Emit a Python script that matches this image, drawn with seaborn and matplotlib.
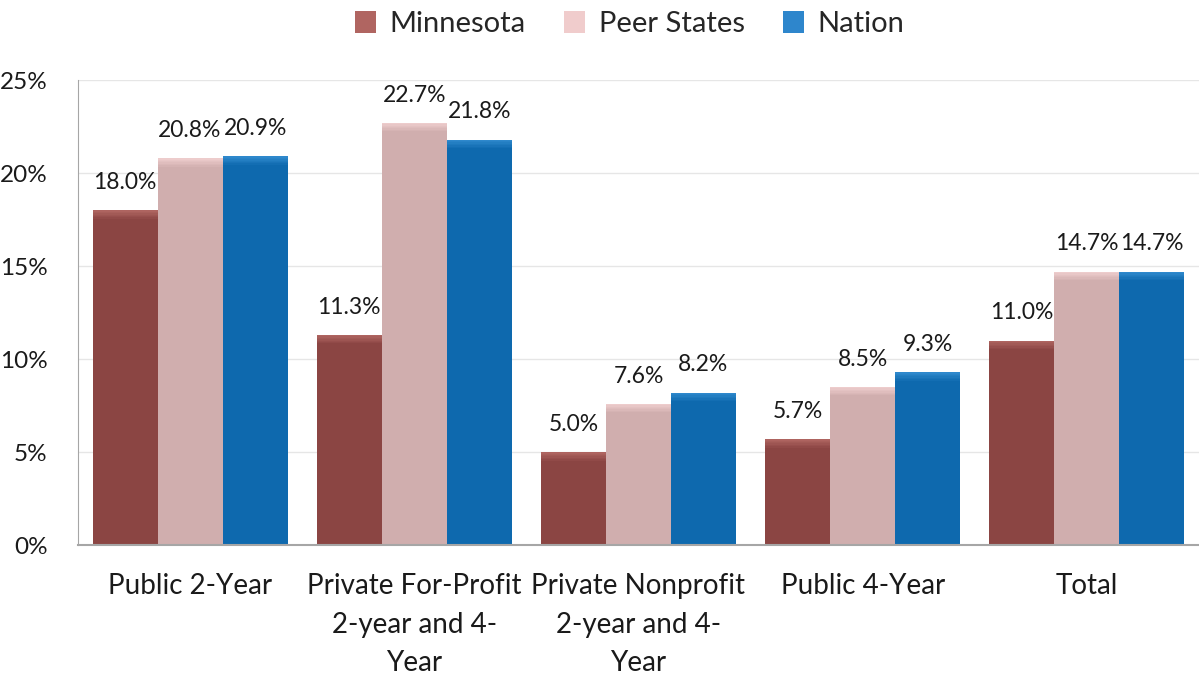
import matplotlib
matplotlib.use("Agg")
import matplotlib.pyplot as plt
import seaborn as sns
import pandas as pd
import numpy as np
from matplotlib.patches import Patch, Rectangle

categories = ["Public 2-Year", "Private For-Profit\n2-year and 4-\nYear",
              "Private Nonprofit\n2-year and 4-\nYear", "Public 4-Year", "Total"]
series = ["Minnesota", "Peer States", "Nation"]
minnesota = [18.0, 11.3, 5.0, 5.7, 11.0]
peer_states = [20.8, 22.7, 7.6, 8.5, 14.7]
nation = [20.9, 21.8, 8.2, 9.3, 14.7]
yticks = [0, 5, 10, 15, 20, 25]

body_colors = ["#8B4543", "#D0AEAE", "#0E69AE"]
top_colors = ["#AE6460", "#EDCCCC", "#2E88CC"]
legend_colors = ["#B06561", "#F0CCCC", "#2E86CC"]

rows = []
for s, vals in zip(series, [minnesota, peer_states, nation]):
    for c, v in zip(categories, vals):
        rows.append({"category": c, "series": s, "value": v})
df = pd.DataFrame(rows)

sns.set_style("white")
plt.rcParams["font.family"] = ["Lato", "DejaVu Sans"]

fig = plt.figure(figsize=(11.99, 6.79), dpi=100)
ax = fig.add_axes([0.065, 0.197, 0.935, 0.685])

sns.barplot(data=df, x="category", y="value", hue="series", order=categories,
            hue_order=series, palette=body_colors, width=0.87, ax=ax,
            legend=False, edgecolor="none", saturation=1)

# lighter top band + labels
for i, (s, vals) in enumerate(zip(series, [minnesota, peer_states, nation])):
    cont = ax.containers[i]
    for bar, v in zip(cont, vals):
        x0 = bar.get_x()
        w = bar.get_width()
        band = 0.45
        for k in range(6):
            frac = k / 6
            col = np.array(matplotlib.colors.to_rgb(top_colors[i])) * (1 - frac) + \
                  np.array(matplotlib.colors.to_rgb(body_colors[i])) * frac
            ax.add_patch(Rectangle((x0, v - band * (k + 1) / 6), w, band / 6,
                                   facecolor=col, edgecolor="none", zorder=3))
        ax.annotate(f"{v:.1f}%", (x0 + w / 2, v), xytext=(0, 20),
                    textcoords="offset points", ha="center", va="center",
                    fontsize=16.5, color="#1a1a1a")

ax.set_ylim(0, 25)
ax.set_xlim(-0.5, 4.5)
ax.set_yticks(yticks)
ax.set_yticklabels([f"{t}%" for t in yticks], fontsize=17.5, color="#1a1a1a")
ax.tick_params(axis="y", length=0, pad=22)
ax.tick_params(axis="x", length=0, pad=20)
for lbl in ax.get_xticklabels():
    lbl.set_fontsize(20)
    lbl.set_color("#1a1a1a")
    lbl.set_linespacing(1.6)
ax.set_xlabel("")
ax.set_ylabel("")
ax.yaxis.grid(True, color="#E6E6E6", linewidth=1)
ax.set_axisbelow(True)
for sp in ["top", "right"]:
    ax.spines[sp].set_visible(False)
ax.spines["left"].set_color("#A6A6A6")
ax.spines["bottom"].set_color("#A6A6A6")
ax.spines["bottom"].set_linewidth(1.5)

handles = [Patch(facecolor=c, edgecolor="none") for c in legend_colors]
fig.legend(handles, series, loc="upper center", bbox_to_anchor=(0.525, 1.022),
           ncol=3, frameon=False, fontsize=21, handlelength=0.75, handleheight=0.75,
           columnspacing=1.3, handletextpad=0.45)

fig.savefig("out.png", dpi=100)
